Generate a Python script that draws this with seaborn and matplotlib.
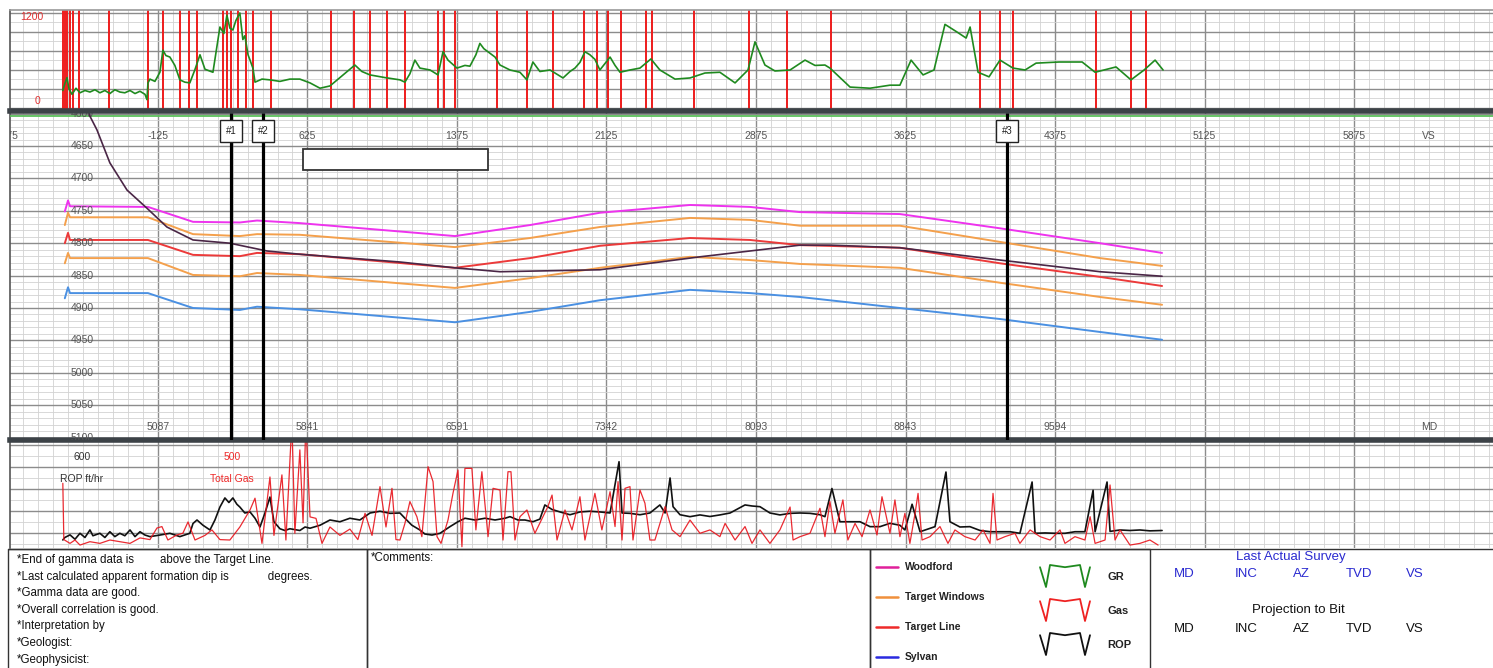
import numpy as np
import pandas as pd
import matplotlib
matplotlib.use('Agg')
import matplotlib.pyplot as plt
import seaborn as sns
from matplotlib.ticker import MultipleLocator
from matplotlib.patches import Rectangle

W, H = 1493, 668

# ---------------- data (VS ft / TVD ft) ----------------
# gamma ray track (API), read along vertical section
gamma_vs = [-602, -592, -581, -571, -556, -536, -516, -491, -466, -441, -416, -391, -366, -341,
            -316, -291, -265, -240, -215, -190, -180, -175, -165, -140, -115, -100, -85, -65,
            -40, -15, 10, 35, 60, 86, 111, 151, 186, 206, 221, 236, 251, 266, 286, 301, 311,
            327, 337, 352, 362, 397, 437, 487, 537, 587, 638, 688, 738, 788, 863, 898, 939,
            1014, 1089, 1114, 1139, 1164, 1189, 1240, 1280, 1305, 1330, 1375, 1415, 1440, 1470,
            1490, 1510, 1541, 1566, 1591, 1641, 1691, 1726, 1756, 1791, 1842, 1907, 1942, 1967,
            1992, 2017, 2042, 2067, 2092, 2143, 2168, 2193, 2243, 2293, 2348, 2393, 2469, 2544,
            2619, 2694, 2770, 2835, 2870, 2920, 2970, 3046, 3121, 3171, 3221, 3246, 3347, 3447,
            3547, 3597, 3653, 3713, 3768, 3823, 3883, 3929, 3949, 3989, 4044, 4099, 4164, 4225,
            4280, 4395, 4511, 4576, 4681, 4756, 4822, 4877, 4917]
gamma_api = [230, 320, 400, 250, 180, 260, 200, 230, 210, 240, 200, 230, 190, 240,
             210, 200, 230, 190, 220, 180, 110, 330, 380, 350, 470, 760, 690, 670,
             560, 370, 340, 330, 500, 700, 510, 470, 1065, 980, 1220, 1050, 1026, 1150, 1250, 900, 950,
             700, 630, 520, 340, 380, 370, 350, 380, 380, 330, 260, 290, 400, 565, 480, 435,
             400, 370, 340, 450, 630, 525, 500, 435, 740, 630, 525, 560, 550, 700,
             850, 780, 720, 670, 565, 500, 470, 370, 605, 480, 500, 395, 480, 525,
             600, 740, 700, 640, 500, 670, 560, 470, 500, 525, 645, 500, 380, 395,
             460, 470, 330, 500, 870, 565, 487, 500, 630, 560, 565, 525, 275, 260,
             300, 300, 630, 435, 500, 1100, 1000, 920, 1065, 470, 410, 630, 525, 500,
             590, 605, 605, 470, 540, 370, 500, 630, 500]
# red gas-show markers on the gamma track
gas_show_vs = [-602, -592, -582, -566, -551, -521, -371, -175, -100, -15, 30, 71, 201, 221, 241,
               276, 316, 352, 442, 743, 858, 939, 1024, 1114, 1280, 1310, 1365, 1576, 1726,
               1857, 2012, 2077, 2133, 2198, 2323, 2353, 2564, 2840, 3031, 3251, 3999, 4099,
               4164, 4581, 4756, 4831]

# formation tops
form_vs = [-592, -576, -566, -175, 51, 286, 372, 587, 1365, 1741, 2092, 2544, 2845, 3096,
           3597, 4099, 4601, 4912]
woodford_tvd = [4751, 4734, 4743, 4744, 4767, 4768, 4765, 4769, 4789, 4772, 4753, 4741, 4744,
                4752, 4755, 4777, 4800, 4815]
win_top_tvd = [4772, 4753, 4760, 4760, 4786, 4789, 4786, 4787, 4806, 4792, 4775, 4761, 4764,
               4773, 4773, 4798, 4823, 4835]
target_tvd = [4800, 4784, 4795, 4795, 4818, 4820, 4815, 4817, 4838, 4823, 4804, 4792, 4795,
              4803, 4807, 4831, 4852, 4866]
win_bot_tvd = [4831, 4815, 4823, 4823, 4849, 4851, 4846, 4849, 4869, 4854, 4838, 4821, 4826,
               4832, 4838, 4861, 4883, 4895]
sylvan_tvd = [4885, 4868, 4877, 4877, 4900, 4903, 4898, 4902, 4922, 4906, 4888, 4872, 4877,
              4883, 4900, 4917, 4937, 4949]

# wellbore
well_vs = [-476, -466, -431, -366, -280, -180, -80, 51, 236, 422, 587, 1089, 1365, 1591, 2092,
           2594, 3096, 3246, 3597, 4099, 4601, 4912]
well_tvd = [4590, 4604, 4625, 4676, 4718, 4746, 4775, 4795, 4800, 4812, 4817, 4829, 4838, 4844,
            4841, 4821, 4803, 4803, 4807, 4826, 4844, 4851]

# ROP (ft/hr)
rop_vs = [-602, -592, -566, -541, -516, -491, -466, -451, -416, -391, -366, -341, -316, -291,
          -265, -240, -215, -190, -165, -115, -65, -15, 35, 51, 71, 101, 136, 161, 186, 211, 231,
          251, 271, 286, 311, 337, 362, 387, 412, 437, 457, 487, 512, 537, 587, 613, 638, 688,
          738, 788, 838, 888, 939, 989, 1039, 1089, 1114, 1149, 1189, 1214, 1250, 1290, 1340,
          1380, 1415, 1465, 1516, 1566, 1616, 1641, 1681, 1716, 1756, 1791, 1816, 1852, 1892,
          1942, 1992, 2042, 2092, 2143, 2188, 2203, 2243, 2293, 2343, 2393, 2419, 2444, 2459,
          2494, 2544, 2594, 2644, 2694, 2745, 2820, 2855, 2895, 2945, 2995, 3046, 3096, 3146,
          3196, 3221, 3256, 3296, 3347, 3397, 3447, 3497, 3547, 3597, 3622, 3658, 3698, 3773,
          3828, 3848, 3898, 3948, 3999, 4049, 4099, 4149, 4199, 4260, 4275, 4325, 4375, 4425,
          4475, 4525, 4566, 4576, 4636, 4651, 4701, 4751, 4801, 4851, 4912]
rop_val = [46, 60, 75, 50, 84, 60, 103, 70, 84, 60, 93, 65, 84, 70,
           103, 65, 93, 74, 65, 74, 84, 65, 84, 140, 160, 130, 103, 160, 234, 286, 260,
           286, 250, 234, 200, 206, 170, 120, 200, 291, 150, 110, 100, 110, 100, 120, 113, 130,
           160, 150, 170, 160, 200, 210, 198, 200, 170, 130, 103, 80, 74, 84, 122,
           150, 170, 160, 170, 160, 170, 179, 160, 160, 150, 165, 246, 220, 206,
           190, 206, 210, 206, 200, 493, 200, 198, 190, 200, 246, 200, 400, 236,
           190, 179, 189, 180, 189, 200, 246, 240, 236, 200, 189, 198, 200, 198,
           190, 179, 340, 150, 150, 150, 122, 122, 141, 130, 103, 250, 93, 122,
           434, 150, 120, 122, 100, 93, 93, 93, 84, 377, 84, 86, 84, 84,
           93, 93, 330, 93, 377, 95, 103, 100, 103, 98, 100]

# total gas (units)
gas_vs = [-602, -597, -566, -541, -516, -466, -416, -366, -316, -265, -215, -165, -130, -105,
          -75, -30, 0, 26, 61, 111, 146, 186, 236, 286, 337, 362, 397, 437, 457, 497, 517, 547,
          562, 587, 603, 617, 638, 668, 698, 738, 788, 838, 878, 914, 949, 989, 1019, 1049,
          1069, 1089, 1114, 1139, 1174, 1199, 1230, 1255, 1275, 1295, 1330, 1355, 1380, 1400,
          1415, 1450, 1470, 1500, 1531, 1556, 1591, 1606, 1631, 1646, 1666, 1691, 1726, 1766,
          1831, 1852, 1877, 1917, 1952, 1992, 2017, 2067, 2102, 2143, 2168, 2183, 2203, 2218,
          2243, 2258, 2293, 2318, 2343, 2368, 2419, 2454, 2494, 2544, 2594, 2644, 2694, 2720,
          2770, 2820, 2855, 2895, 2945, 2995, 3046, 3061, 3096, 3146, 3196, 3221, 3246, 3271,
          3311, 3336, 3372, 3407, 3447, 3482, 3507, 3547, 3572, 3597, 3622, 3647, 3673, 3688,
          3708, 3748, 3798, 3838, 3873, 3923, 3974, 4014, 4049, 4064, 4084, 4124, 4174, 4199,
          4250, 4300, 4350, 4400, 4425, 4475, 4525, 4551, 4576, 4626, 4651, 4676, 4701, 4751,
          4801, 4851, 4892]
gas_val = [308, 40, 22, 38, 14, 30, 22, 38, 30, 22, 48, 40, 95, 102,
           38, 62, 70, 124, 38, 60, 86, 40, 38, 100, 181, 237, 22, 338, 60, 348, 38, 600,
           70, 467, 120, 600, 148, 141, 22, 100, 60, 90, 40, 165, 60, 292, 100, 284,
           40, 38, 117, 221, 149, 54, 387, 316, 54, 22, 133, 260, 371, 6,
           379, 379, 86, 363, 54, 284, 276, 38, 363, 363, 38, 149, 181, 70,
           197, 252, 38, 181, 86, 244, 38, 260, 86, 268, 102, 316, 38, 284,
           292, 38, 276, 213, 38, 38, 197, 86, 54, 133, 70, 86, 54, 117,
           38, 102, 22, 86, 22, 86, 195, 38, 54, 70, 189, 54, 221, 70,
           229, 38, 117, 54, 181, 62, 244, 70, 229, 54, 165, 22, 165, 260,
           38, 54, 102, 22, 86, 54, 38, 86, 22, 260, 38, 54, 70, 22,
           86, 54, 38, 86, 22, 54, 38, 149, 22, 38, 300, 38, 86, 14,
           22, 38, 14]

vs_ticks = [-875, -125, 625, 1375, 2125, 2875, 3625, 4375, 5125, 5875, 6625]
md_ticks = ['', '5087', '5841', '6591', '7342', '8093', '8843', '9594', '', '', '']
tvd_ticks = [4600, 4650, 4700, 4750, 4800, 4850, 4900, 4950, 5000, 5050, 5100]
pick_vs = [241, 402, 4134]
pick_names = ['#1', '#2', '#3']

legend_names = ['Woodford', 'Target Windows', 'Target Line', 'Sylvan']
legend_colors = ['#e0209a', '#f0903c', '#ee2a2a', '#2a2ae0']
notes = ['*End of gamma data is        above the Target Line.',
         '*Last calculated apparent formation dip is            degrees.',
         '*Gamma data are good.',
         '*Overall correlation is good.',
         '*Interpretation by',
         '*Geologist:',
         '*Geophysicist:']
survey_cols = ['MD', 'INC', 'AZ', 'TVD', 'VS']

# ---------------- figure ----------------
sns.set_theme(style='white')
plt.rcParams['font.family'] = ['Liberation Sans', 'DejaVu Sans']

fig = plt.figure(figsize=(W / 100, H / 100), dpi=100)


def px_box(x0, y0, x1, y1):
    return [x0 / W, 1 - y1 / H, (x1 - x0) / W, (y1 - y0) / H]


VS_LIM = (-867, 6572)
BAR = '#3c4247'


def style_track(ax, ymaj, ymin, yoff=0.0):
    ax.set_xlim(*VS_LIM)
    ax.xaxis.set_major_locator(MultipleLocator(750, offset=-125))
    ax.xaxis.set_minor_locator(MultipleLocator(75, offset=-125))
    ax.yaxis.set_major_locator(MultipleLocator(ymaj, offset=yoff))
    ax.yaxis.set_minor_locator(MultipleLocator(ymin, offset=yoff))
    ax.grid(True, which='major', color='#8c8c8c', lw=1.0)
    ax.grid(True, which='minor', color='#d2d2d2', lw=0.6)
    ax.set_axisbelow(True)
    ax.tick_params(which='both', length=0, labelbottom=False, labelleft=False)
    ax.set_xlabel('')
    ax.set_ylabel('')
    ax.spines['right'].set_visible(False)
    ax.spines['left'].set_color('#555555')
    ax.spines['left'].set_linewidth(1.2)


# --- gamma track ---
ax_g = fig.add_axes(px_box(10, 10, W, 110.5))
ax_g.set_zorder(3)
ax_g.vlines(gas_show_vs, -40, 1300, color='#ee1c1c', lw=1.4, zorder=2)
sns.lineplot(x=gamma_vs, y=gamma_api, ax=ax_g, color='#1f8a1f', lw=1.2,
             sort=False, estimator=None, zorder=3)
ax_g.set_ylim(-33, 1289)
style_track(ax_g, 250, 125)
ax_g.spines['bottom'].set_color(BAR)
ax_g.spines['bottom'].set_linewidth(4.0)
ax_g.spines['top'].set_color('#9a9a9a')
ax_g.spines['top'].set_linewidth(1.2)
ax_g.text(-757, 1197, '1200', color='#e03030', fontsize=7.5, ha='center', va='center')
ax_g.text(-727, 92, '0', color='#e03030', fontsize=7.5, ha='center', va='center')

# --- cross-section track ---
ax_m = fig.add_axes(px_box(10, 110.5, W, 440))
ax_m.set_zorder(2)
ax_m.axhline(4604, color='#5cbf5c', lw=1.3, zorder=3)
for tvd, col in [(woodford_tvd, '#ee33ee'), (win_top_tvd, '#f4a04c'), (target_tvd, '#ec3a3a'),
                 (win_bot_tvd, '#f4a04c'), (sylvan_tvd, '#4a90e2')]:
    sns.lineplot(x=form_vs, y=tvd, ax=ax_m, color=col, lw=1.4, sort=False, estimator=None,
                 zorder=3)
sns.lineplot(x=well_vs, y=well_tvd, ax=ax_m, color='#4a2646', lw=1.2, sort=False,
             estimator=None, zorder=4)
ax_m.set_ylim(5103.7, 4595.2)
style_track(ax_m, 50, 10)
ax_m.spines['top'].set_visible(False)
ax_m.spines['bottom'].set_color(BAR)
ax_m.spines['bottom'].set_linewidth(4.0)

for v, md in zip(vs_ticks, md_ticks):
    ax_m.text(v, 4634.6, str(v), ha='center', va='center', fontsize=7.5, color='#555555',
              clip_on=True)
    if md:
        ax_m.text(v, 5083.6, md, ha='center', va='center', fontsize=7.5, color='#555555')
ax_m.text(6250, 4634.6, 'VS', ha='center', va='center', fontsize=7.5, color='#555555')
ax_m.text(6250, 5083.6, 'MD', ha='center', va='center', fontsize=7.5, color='#555555')
for t in tvd_ticks:
    ax_m.text(-506, t, str(t), ha='center', va='center', fontsize=7.5, color='#555555',
              clip_on=True)

for v, name in zip(pick_vs, pick_names):
    ax_m.axvline(v, color='black', lw=2.3, zorder=5)
    ax_m.text(v, 4627, name, ha='center', va='center', fontsize=7, color='#222222', zorder=6,
              bbox=dict(boxstyle='square,pad=0.6', fc='white', ec='#222222', lw=1))
ax_m.add_patch(Rectangle((602, 4655), 929, 32, fc='white', ec='#333333', lw=1.3, zorder=6))

# --- ROP / gas track ---
ax_r = fig.add_axes(px_box(10, 440, W, 548))
ax_r.set_zorder(1)
sns.lineplot(x=rop_vs, y=rop_val, ax=ax_r, color='#111111', lw=1.2, sort=False,
             estimator=None, zorder=3)
ax_r.set_ylim(0, 617)
style_track(ax_r, 125, 62.5, 86)
ax_r.spines['top'].set_visible(False)
ax_r.spines['bottom'].set_visible(False)
ax_gas = ax_r.twinx()
sns.lineplot(x=gas_vs, y=gas_val, ax=ax_gas, color='#e8141c', lw=0.9, sort=False,
             estimator=None, alpha=0.9)
ax_gas.set_ylim(0, 514)
ax_gas.set_xlim(*VS_LIM)
ax_gas.set_ylabel('')
ax_gas.tick_params(length=0, labelright=False)
for s in ax_gas.spines.values():
    s.set_visible(False)
ax_r.text(-506, 520, '600', ha='center', va='center', fontsize=7.5, color='#333333')
ax_r.text(-506, 394, 'ROP ft/hr', ha='center', va='center', fontsize=7.5, color='#333333')
ax_r.text(246, 520, '500', ha='center', va='center', fontsize=7.5, color='#ee2a2a')
ax_r.text(246, 394, 'Total Gas', ha='center', va='center', fontsize=7.5, color='#ee2a2a')

# --- footer table ---
ax_t = fig.add_axes(px_box(0, 548, W, H))
ax_t.set_xlim(0, W)
ax_t.set_ylim(H, 548)
ax_t.axis('off')
ax_t.plot([8, W], [548.5, 548.5], color='#333333', lw=1)
for x0, x1 in [(8, 367), (367, 870), (870, 1150)]:
    ax_t.add_patch(Rectangle((x0, 548.5), x1 - x0, 130, fill=False, ec='#333333', lw=1))

for i, line in enumerate(notes):
    ax_t.text(17, 560 + i * 16.6, line, fontsize=8.3, va='center', ha='left', color='#111111')
ax_t.text(371, 558, '*Comments:', fontsize=8.3, va='center', ha='left', color='#111111')

for i, (name, col) in enumerate(zip(legend_names, legend_colors)):
    y = 567 + i * 30
    ax_t.plot([876, 898], [y, y], color=col, lw=1.8)
    ax_t.text(905, y, name, fontsize=7.5, fontweight='bold', va='center', ha='left',
              color='#222222')

icon_x = np.array([0, 0.12, 0.2, 0.5, 0.8, 0.9, 1.0])
icon_y = np.array([0.1, 1.0, 0.0, 0.1, 0.0, 1.0, 0.1])
for i, (name, col) in enumerate(zip(['GR', 'Gas', 'ROP'], ['#1f8a1f', '#ee2222', '#111111'])):
    top = 565 + i * 34
    ax_t.plot(1040 + icon_x * 50, top + icon_y * 22, color=col, lw=1.3)
    ax_t.text(1107, top + 12, name, fontsize=8, fontweight='bold', va='center', ha='left',
              color='#222222')

ax_t.text(1291, 557, 'Last Actual Survey', fontsize=9.5, color='#2a2ad0', ha='center',
          va='center')
ax_t.text(1298, 610, 'Projection to Bit', fontsize=9.5, color='#111111', ha='center',
          va='center')
for x, col_name in zip([1184, 1246, 1301, 1359, 1415], survey_cols):
    ax_t.text(x, 574, col_name, fontsize=9.5, color='#2a2ad0', ha='center', va='center')
    ax_t.text(x, 629, col_name, fontsize=9.5, color='#111111', ha='center', va='center')

fig.savefig('out.png', dpi=100)
